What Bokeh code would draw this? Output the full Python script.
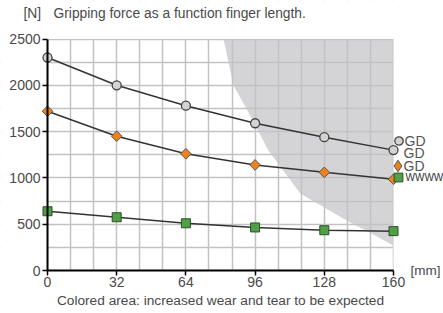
import math
from bokeh.plotting import figure
from bokeh.models import (Range1d, FixedTicker, Label, Legend, LegendItem, BoxAnnotation)
from bokeh.embed import file_html
from bokeh.resources import INLINE

# ---- data ----
finger_length = [0, 32, 64, 96, 128, 160]
force_gd_circle = [2300, 2000, 1780, 1590, 1440, 1300]
force_gd_diamond = [1720, 1450, 1260, 1140, 1060, 985]
force_gd_square = [640, 575, 510, 465, 435, 425]

wear_x = [81.4, 86, 95, 102, 117, 138, 160, 160]
wear_y = [2500, 2000, 1620, 1300, 830, 545, 270, 2500]

x_ticks = [0, 32, 64, 96, 128, 160]
y_ticks = [0, 500, 1000, 1500, 2000, 2500]
x_grid = [i * 32 / 3 for i in range(16)]
y_grid = [i * 250 for i in range(11)]

title_unit = "[N]"
title_text = "Gripping force as a function finger length."
x_unit = "[mm]"
caption = "Colored area: increased wear and tear to be expected"
legend_labels = ["GD", "GD", "GD", "WWWW"]

FONT = "Liberation Sans"
TXT = "#4a4a4a"
W, H = 443, 313

# axes box in canvas pixels (frame spans the whole canvas)
AX_L, AX_R, AX_T, AX_B = 47, 393, 38.5, 270
X0, X1 = x_ticks[0], x_ticks[-1]
Y0, Y1 = y_ticks[0], y_ticks[-1]
kx = (X1 - X0) / (AX_R - AX_L)
ky = (Y1 - Y0) / (AX_B - AX_T)

p = figure(width=W, height=H, output_backend="svg", toolbar_location=None,
           x_range=Range1d(X0 - AX_L * kx, X1 + (W - AX_R) * kx),
           y_range=Range1d(Y0 - (H - AX_B) * ky, Y1 + AX_T * ky),
           min_border=0, min_border_left=0, min_border_right=0,
           min_border_top=0, min_border_bottom=0)
p.outline_line_color = None
p.background_fill_color = "white"
p.border_fill_color = "white"

# shaded wear area (under grid)
p.patch(wear_x, wear_y, fill_color="#d4d4d6", line_color=None, level="image")

# grid
p.xgrid.ticker = FixedTicker(ticks=x_grid)
p.ygrid.ticker = FixedTicker(ticks=y_grid)
for g in (p.xgrid, p.ygrid):
    g.grid_line_color = "#c2c2c4"
    g.grid_line_width = 1.5

# white covers for the frame outside the axes box
for kw in (dict(right=X0), dict(left=X1), dict(top=Y0), dict(bottom=Y1)):
    p.add_layout(BoxAnnotation(fill_color="white", fill_alpha=1, line_color=None,
                               level="underlay", **kw))

# axes
p.xaxis.ticker = FixedTicker(ticks=x_ticks)
p.yaxis.ticker = FixedTicker(ticks=y_ticks)
p.xaxis.fixed_location = Y0
p.yaxis.fixed_location = X0
p.xaxis.bounds = (X0, X1)
p.yaxis.bounds = (Y0, Y1)
for ax in (p.xaxis, p.yaxis):
    ax.axis_line_color = "black"
    ax.axis_line_width = 2
    ax.major_tick_line_color = "black"
    ax.major_tick_line_width = 1.5
    ax.major_tick_out = 5
    ax.major_tick_in = 0
    ax.minor_tick_line_color = None
    ax.major_label_text_font = FONT
    ax.major_label_text_font_size = "14px"
    ax.major_label_text_color = TXT
p.yaxis.major_label_standoff = 2
p.xaxis.major_label_standoff = 1
p.xaxis.axis_label = caption
p.xaxis.axis_label_text_font = FONT
p.xaxis.axis_label_text_font_size = "13.7px"
p.xaxis.axis_label_text_font_style = "normal"
p.xaxis.axis_label_text_color = TXT
p.xaxis.axis_label_standoff = 3

# series
line_kw = dict(line_color="#333333", line_width=1.5)
p.line(finger_length, force_gd_circle, **line_kw)
p.line(finger_length, force_gd_diamond, **line_kw)
p.line(finger_length, force_gd_square, **line_kw)

ORANGE = "#f0821e"
# diamond key renderer (drawn first, hidden under the rotated squares; used for the legend swatch)
r_d_key = p.scatter(finger_length, force_gd_diamond, marker="diamond", size=8,
                    fill_color=ORANGE, line_color="#555555", line_width=1)

circle_style = dict(marker="circle", fill_color="#d3d3d3", line_color="#444444", line_width=1.3)
diamond_style = dict(marker="square", angle=math.pi / 4, fill_color=ORANGE,
                     line_color="#555555", line_width=1)
square_style = dict(marker="square", fill_color="#4fa046", line_color="#2d4f2a", line_width=1)
r_c = p.scatter(finger_length, force_gd_circle, size=9, **circle_style)
r_d = p.scatter(finger_length, force_gd_diamond, size=7.5, **diamond_style)
r_s = p.scatter(finger_length, force_gd_square, size=9, **square_style)

# legend: one single-item legend per marker (glyph box * 0.4 = marker size)
def sy(y):  # canvas y (from top) -> screen units (from bottom)
    return H - y

for r, (cx, cy), box in ((r_c, (398, 140), 21), (r_d_key, (397, 165), 29), (r_s, (398, 177), 22)):
    half = box / 2
    lg = Legend(items=[LegendItem(label=" ", renderers=[r])],
                location=(cx - half, sy(cy) - half),
                glyph_width=box, glyph_height=box, label_height=box, label_width=1,
                label_standoff=0, padding=0, margin=0, spacing=0,
                border_line_color=None, background_fill_alpha=0,
                label_text_font_size="4px")
    p.add_layout(lg, "center")

for txt, (tx, ty), size, color in ((legend_labels[0], (404, 140), "14px", "#555555"),
                                   (legend_labels[1], (403, 152), "14px", "#555555"),
                                   (legend_labels[2], (403, 165), "14px", "#555555"),
                                   (legend_labels[3], (405, 177), "10px", "#333333")):
    p.add_layout(Label(x=tx, y=sy(ty), x_units="screen", y_units="screen", text=txt,
                       text_font=FONT, text_font_size=size, text_color=color,
                       text_baseline="middle"))

# texts
p.add_layout(Label(x=23, y=sy(13), x_units="screen", y_units="screen", text=title_unit,
                   text_font=FONT, text_font_size="13.8px", text_color=TXT, text_baseline="middle"))
p.add_layout(Label(x=53, y=sy(13), x_units="screen", y_units="screen", text=title_text,
                   text_font=FONT, text_font_size="13.8px", text_color=TXT, text_baseline="middle"))
p.add_layout(Label(x=410, y=sy(270), x_units="screen", y_units="screen", text=x_unit,
                   text_font=FONT, text_font_size="13.5px", text_color=TXT, text_baseline="middle"))

open("out.html", "w").write(file_html(p, INLINE))
